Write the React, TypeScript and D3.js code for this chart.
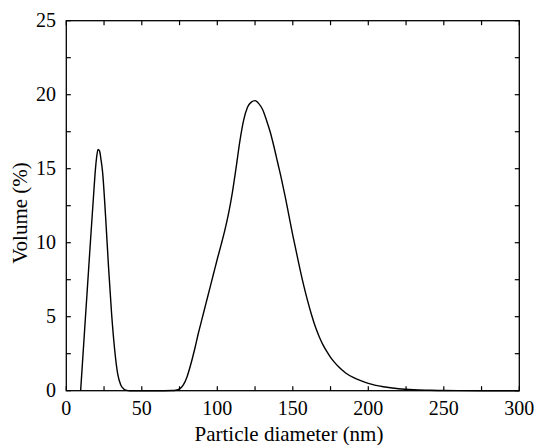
import React from "react";
import * as d3 from "d3";

const diameters = [9.5, 12, 14, 16, 18, 19, 20, 21, 22, 23, 24, 26, 28, 30, 32, 34, 36, 38, 40, 42, 45, 50, 55, 60, 65, 70, 72.5, 75, 77.5, 80, 82.5, 85, 87.5, 90, 92.5, 95, 97.5, 100, 102.5, 105, 107.5, 110, 112.5, 115, 117.5, 120, 122.5, 125, 127.5, 130, 132.5, 135, 137.5, 140, 142.5, 145, 147.5, 150, 152.5, 155, 157.5, 160, 162.5, 165, 167.5, 170, 172.5, 175, 177.5, 180, 185, 190, 195, 200, 210, 220, 230, 240, 250, 275, 300];
const volumes = [0, 3.9, 7.0, 10.1, 13.1, 14.6, 15.7, 16.3, 16.2, 15.6, 14.8, 11.8, 8.3, 5.2, 2.8, 1.15, 0.4, 0.12, 0.02, 0, 0, 0, 0, 0, 0, 0.01, 0.03, 0.12, 0.4, 0.95, 1.8, 2.8, 3.9, 4.9, 5.9, 6.9, 7.9, 8.9, 9.85, 10.85, 12.0, 13.4, 15.1, 16.9, 18.3, 19.15, 19.5, 19.6, 19.4, 19.0, 18.3, 17.5, 16.5, 15.4, 14.3, 13.1, 11.8, 10.5, 9.3, 8.1, 7.0, 6.0, 5.1, 4.3, 3.65, 3.1, 2.65, 2.25, 1.93, 1.65, 1.2, 0.9, 0.68, 0.5, 0.27, 0.13, 0.06, 0.03, 0.01, 0, 0];

const xTicks = [0, 50, 100, 150, 200, 250, 300];
const xMinorTicks = [0, 25, 50, 75, 100, 125, 150, 175, 200, 225, 250, 275, 300];
const yTicks = [0, 5, 10, 15, 20, 25];
const yMinorTicks = [0, 2.5, 5, 7.5, 10, 12.5, 15, 17.5, 20, 22.5, 25];

const W = 536, H = 445;
const L = 66.3, R = 519.3, T = 20.7, B = 390.7;
const FONT = "Liberation Serif, DejaVu Serif, serif";

export default function App() {
  const x = d3.scaleLinear().domain([0, 300]).range([L, R]);
  const y = d3.scaleLinear().domain([0, 25]).range([B, T]);
  const pts = diameters.map((d, i) => [d, volumes[i]] as [number, number]);
  const line = d3.line<[number, number]>().x(d => x(d[0])).y(d => y(d[1])).curve(d3.curveMonotoneX);
  const tl = 4.5;
  const ts = { fontFamily: FONT, fontSize: "20px" };
  const tt = { fontFamily: FONT, fontSize: "21px" };
  return (
    <svg width={W} height={H} style={{ position: "absolute", left: 0, top: 0 }}>
      <rect x={0} y={0} width={W} height={H} fill="#fff" />
      <path d={line(pts) || ""} fill="none" stroke="#000" strokeWidth={1.4} />
      <rect x={L} y={T} width={R - L} height={B - T} fill="none" stroke="#000" strokeWidth={1.3} />
      {xMinorTicks.map(t => (
        <g key={"x" + t}>
          <line x1={x(t)} x2={x(t)} y1={B} y2={B - tl} stroke="#000" strokeWidth={1.2} />
          <line x1={x(t)} x2={x(t)} y1={T} y2={T + tl} stroke="#000" strokeWidth={1.2} />
        </g>
      ))}
      {yMinorTicks.map(t => (
        <g key={"y" + t}>
          <line x1={L} x2={L + tl} y1={y(t)} y2={y(t)} stroke="#000" strokeWidth={1.2} />
          <line x1={R} x2={R - tl} y1={y(t)} y2={y(t)} stroke="#000" strokeWidth={1.2} />
        </g>
      ))}
      {xTicks.map(t => (
        <text key={"xl" + t} x={x(t)} y={415} textAnchor="middle" style={ts}>{t}</text>
      ))}
      {yTicks.map(t => (
        <text key={"yl" + t} x={56} y={y(t) + 6.7} textAnchor="end" style={ts}>{t}</text>
      ))}
      <text x={289} y={441} textAnchor="middle" style={tt}>Particle diameter (nm)</text>
      <text transform={`translate(27, 213) rotate(-90)`} textAnchor="middle" style={tt}>Volume (%)</text>
    </svg>
  );
}
